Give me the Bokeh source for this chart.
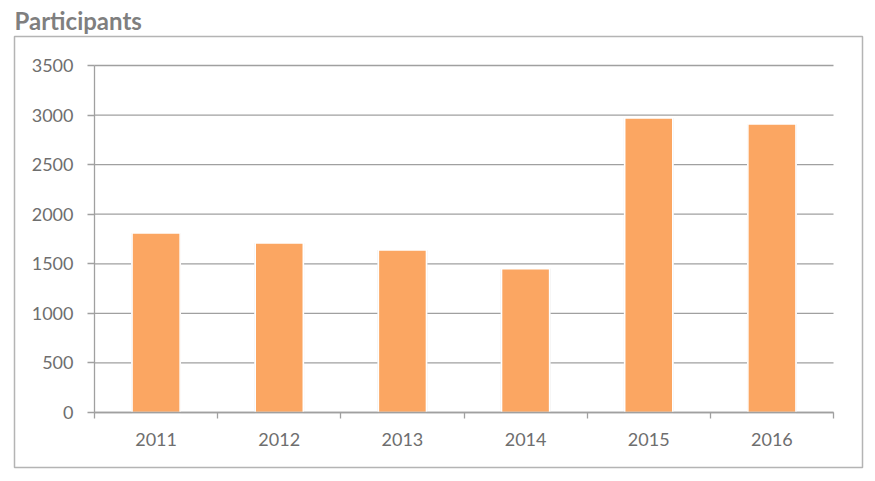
from bokeh.plotting import figure
from bokeh.models import FixedTicker, Range1d, ColumnDataSource
from bokeh.embed import file_html
from bokeh.resources import INLINE

years = ["2011", "2012", "2013", "2014", "2015", "2016"]
participants = [1810, 1710, 1640, 1450, 2970, 2910]
y_ticks = [0, 500, 1000, 1500, 2000, 2500, 3000, 3500]

n = len(years)
xs = [i + 0.5 for i in range(n)]
src = ColumnDataSource(dict(x=xs, top=participants, year=years))

# frame = outer box (14..862 x 36..467); axes drawn inside at fixed locations
x_px = 739 / n
y_px = 347 / 3500
x_start = -(94 - 14) / x_px
x_end = n + (862 - 833) / x_px
y_end = 3500 + (65 - 36) / y_px
y_start = -(467 - 412) / y_px

p = figure(width=875, height=481, output_backend="svg", toolbar_location=None,
           x_range=Range1d(x_start, x_end), y_range=Range1d(y_start, y_end),
           frame_width=848, frame_height=431,
           min_border_left=14, min_border_right=13, min_border_top=36, min_border_bottom=14)
p.title.text = "Participants"
p.title.text_font = "Lato"
p.title.text_font_style = "bold"
p.title.text_font_size = "24px"
p.title.text_color = "#7f7f7f"
p.title.align = "left"
p.title.offset = 0
p.title.standoff = 4

# horizontal gridlines limited to the plot area (category span 0..n)
p.segment(x0=[0] * len(y_ticks), x1=[n] * len(y_ticks), y0=y_ticks, y1=y_ticks,
          line_color="#a0a0a0", line_width=1.3)

p.vbar(x="x", top="top", width=0.405, source=src, fill_color="#e6e6e6",
       line_color=None)
p.vbar(x="x", top="top", width=0.39, source=src, fill_color="#fba662",
       line_color="white", line_width=1.5)

p.outline_line_color = "#b4b4b4"
p.outline_line_width = 1.5
p.background_fill_color = "white"
p.border_fill_color = "white"

# y axis
p.yaxis.fixed_location = 0
p.yaxis.bounds = (0, 3500)
p.yaxis.ticker = FixedTicker(ticks=y_ticks)
p.yaxis.axis_line_color = "#a0a0a0"
p.yaxis.axis_line_width = 1.3
p.yaxis.major_tick_line_color = "#a0a0a0"
p.yaxis.major_tick_line_width = 1.3
p.yaxis.major_tick_out = 7
p.yaxis.major_tick_in = 0
p.yaxis.minor_tick_line_color = None
p.yaxis.major_label_text_font = "Lato"
p.yaxis.major_label_text_font_size = "18px"
p.yaxis.major_label_text_color = "#6e6e6e"
p.yaxis.major_label_standoff = 14

# x axis
p.xaxis.fixed_location = 0
p.xaxis.bounds = (0, n)
p.xaxis.ticker = FixedTicker(ticks=xs, minor_ticks=list(range(n + 1)))
p.xaxis.major_label_overrides = {x: y for x, y in zip(xs, years)}
p.xaxis.axis_line_color = "#a0a0a0"
p.xaxis.axis_line_width = 1.3
p.xaxis.major_tick_line_color = None
p.xaxis.minor_tick_line_color = "#a0a0a0"
p.xaxis.minor_tick_line_width = 1.3
p.xaxis.minor_tick_out = 6
p.xaxis.minor_tick_in = 0
p.xaxis.major_label_text_font = "Lato"
p.xaxis.major_label_text_font_size = "18px"
p.xaxis.major_label_text_color = "#6e6e6e"
p.xaxis.major_label_standoff = 14

p.xgrid.grid_line_color = None
p.ygrid.grid_line_color = None

open("out.html", "w").write(file_html(p, INLINE))
